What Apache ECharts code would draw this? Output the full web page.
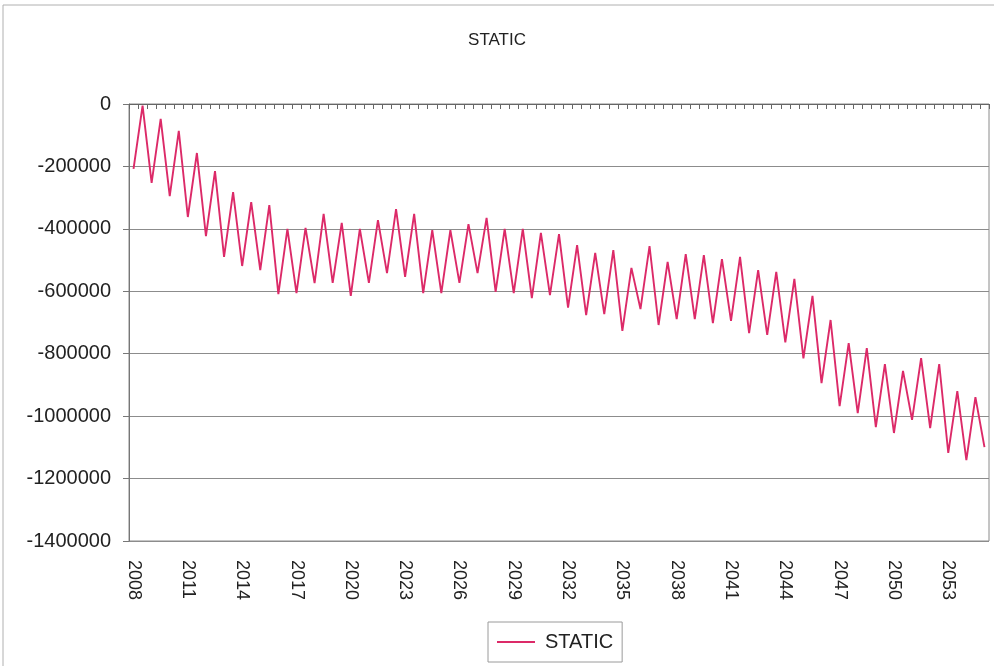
<!DOCTYPE html>
<html>
<head>
<meta charset="utf-8">
<title>STATIC</title>
<script src="https://cdn.jsdelivr.net/npm/echarts@6/dist/echarts.min.js"></script>
<style>
  html, body { margin: 0; padding: 0; background: #ffffff; }
  #chart { width: 994px; height: 666px; }
</style>
</head>
<body>
<div id="chart"></div>
<script>
// Years covered by the half-yearly series (two periods per year, last year has one)
const years = [2008, 2009, 2010, 2011, 2012, 2013, 2014, 2015, 2016, 2017, 2018, 2019,
  2020, 2021, 2022, 2023, 2024, 2025, 2026, 2027, 2028, 2029, 2030, 2031,
  2032, 2033, 2034, 2035, 2036, 2037, 2038, 2039, 2040, 2041, 2042, 2043,
  2044, 2045, 2046, 2047, 2048, 2049, 2050, 2051, 2052, 2053, 2054, 2055];

// STATIC values, one per half-year period
const staticValues = [
  -208000, -5000, -253000, -48000, -295000, -86000, -362000, -157000, -423000, -215000,
  -490000, -282000, -519000, -314000, -532000, -324000, -609000, -400000, -606000, -397000,
  -574000, -352000, -573000, -381000, -615000, -400000, -573000, -372000, -542000, -337000,
  -554000, -352000, -606000, -404000, -606000, -404000, -573000, -385000, -542000, -365000,
  -602000, -400000, -606000, -400000, -622000, -413000, -612000, -417000, -652000, -452000,
  -676000, -477000, -673000, -468000, -727000, -525000, -657000, -455000, -708000, -506000,
  -689000, -481000, -689000, -484000, -702000, -497000, -695000, -490000, -734000, -532000,
  -740000, -538000, -764000, -560000, -815000, -615000, -894000, -692000, -968000, -766000,
  -990000, -782000, -1035000, -833000, -1054000, -855000, -1012000, -814000, -1038000, -833000,
  -1118000, -920000, -1141000, -939000, -1099000
];

const seriesName = 'STATIC';

// Each period is labelled with its year
const categories = [];
years.forEach(function (y) {
  categories.push(String(y));
  categories.push(String(y));
});
categories.length = staticValues.length;

const FONT = '"Liberation Sans", Arial, sans-serif';
const LINE_COLOR = '#dc2a68';

const chart = echarts.init(document.getElementById('chart'), null, { renderer: 'canvas' });

chart.setOption({
  backgroundColor: '#ffffff',
  animation: false,
  graphic: [{
    type: 'rect',
    shape: { x: 3, y: 5, width: 1100, height: 1000 },
    style: { fill: 'none', stroke: '#b0b0b0', lineWidth: 1 },
    silent: true
  }],
  title: {
    text: 'STATIC',
    left: 'center',
    top: 27,
    textStyle: { fontFamily: FONT, fontSize: 17, fontWeight: 'normal', color: '#222222' }
  },
  legend: {
    data: [{ name: seriesName, icon: 'rect' }],
    left: 488,
    top: 622,
    itemWidth: 38,
    itemHeight: 2,
    padding: [10, 9, 10, 9],
    borderColor: '#9a9a9a',
    borderWidth: 1,
    textStyle: { fontFamily: FONT, fontSize: 20, color: '#222222', padding: [0, 0, 0, 5] }
  },
  grid: {
    left: 129,
    right: 5,
    top: 104,
    bottom: 125,
    show: true,
    borderColor: '#8a8a8a',
    borderWidth: 1,
    containLabel: false
  },
  xAxis: [{
    type: 'category',
    data: categories,
    position: 'bottom',
    boundaryGap: true,
    axisLine: { show: true, lineStyle: { color: '#777777', width: 1 } },
    axisTick: { show: false },
    axisLabel: {
      interval: 5,
      rotate: -90,
      margin: 19,
      fontFamily: FONT,
      fontSize: 18,
      color: '#222222'
    },
    splitLine: { show: false }
  }, {
    type: 'category',
    data: categories,
    position: 'top',
    boundaryGap: true,
    axisLine: { show: true, lineStyle: { color: '#666666', width: 1 } },
    axisTick: { show: true, interval: 0, inside: true, length: 5, lineStyle: { color: '#666666' } },
    axisLabel: { show: false },
    splitLine: { show: false }
  }],
  yAxis: {
    type: 'value',
    min: -1400000,
    max: 0,
    interval: 200000,
    axisLine: { show: true, lineStyle: { color: '#777777', width: 1 } },
    axisTick: { show: true, length: 6, lineStyle: { color: '#777777' } },
    axisLabel: {
      margin: 18,
      fontFamily: FONT,
      fontSize: 20,
      color: '#222222',
      formatter: function (v) { return String(v); }
    },
    splitLine: { show: true, lineStyle: { color: '#8c8c8c', width: 1 } }
  },
  series: [{
    name: seriesName,
    type: 'line',
    xAxisIndex: 0,
    data: staticValues,
    showSymbol: false,
    symbol: 'none',
    lineStyle: { color: LINE_COLOR, width: 1.9 },
    itemStyle: { color: LINE_COLOR }
  }]
});
</script>
</body>
</html>
